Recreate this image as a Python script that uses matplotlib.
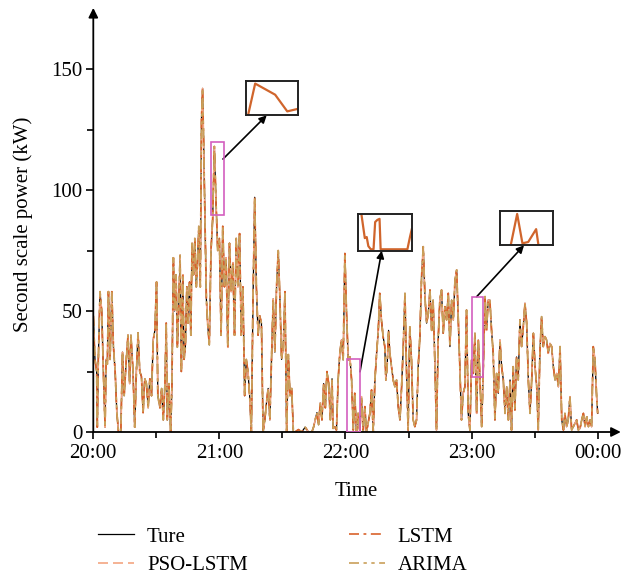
import matplotlib
matplotlib.use("Agg")
import matplotlib.pyplot as plt
from matplotlib.patches import Rectangle
from matplotlib.ticker import FixedLocator

plt.rcParams['font.family'] = ['Liberation Serif', 'DejaVu Serif']

# ---- data (minutes after 20:00, power in kW) ----
minutes = [0.0, 0.8, 1.6, 1.9, 2.4, 3.2, 4.0, 4.8, 5.6, 6.1, 6.7, 7.2, 8.0, 8.8, 9.6, 10.4, 11.2, 12.0, 13.1,
           13.9, 14.7, 15.7, 16.5, 17.3, 17.9, 18.9, 19.7, 20.5, 21.3, 22.1, 22.9, 23.7, 24.5, 25.3, 26.1,
           26.9, 27.7, 28.5, 29.3, 30.1, 30.7, 31.7, 32.5, 33.3, 34.1, 34.7, 35.2, 36.0, 36.8, 37.4, 38.1,
           38.7, 39.4, 40.0, 40.6, 41.3, 41.9, 42.6, 43.2, 43.8, 44.5, 45.1, 45.8, 46.4, 47.0, 47.7, 48.3,
           49.0, 49.6, 50.2, 50.9, 51.5, 52.0, 52.5, 53.1, 53.8, 54.4, 55.2, 56.0, 56.8, 57.6, 58.4, 59.2,
           60.0, 60.8, 61.6, 62.4, 63.2, 64.0, 64.8, 65.6, 66.4, 67.2, 68.0, 68.8, 69.6, 70.4, 71.2, 72.0,
           72.8, 73.6, 74.4, 75.2, 76.0, 76.8, 77.6, 78.4, 79.2, 80.0, 80.8, 81.6, 82.4, 83.2, 84.0, 84.8,
           85.6, 86.4, 87.2, 88.0, 88.8, 89.6, 90.4, 91.2, 92.0, 92.8, 93.6, 94.4, 95.2, 96.0, 97.6, 99.2,
           100.8, 102.4, 104.0, 104.8, 106.4, 107.2, 108.0, 108.8, 109.6, 110.4, 111.2, 112.0, 112.8, 113.6,
           114.1, 114.9, 115.7, 116.5, 117.3, 118.1, 118.9, 119.7, 120.5, 121.3, 122.1, 122.9, 123.7, 124.4,
           125.2, 126.0, 126.8, 127.6, 128.4, 129.2, 130.0, 131.6, 132.4, 133.2, 134.0, 134.8, 135.6, 136.3,
           137.1, 137.9, 138.7, 139.2, 139.8, 140.5, 141.1, 141.9, 142.7, 143.5, 144.3, 145.1, 145.9, 146.7,
           147.5, 148.3, 149.0, 149.8, 150.6, 151.4, 152.2, 153.0, 153.8, 154.6, 155.4, 156.2, 157.0, 157.8,
           158.6, 159.4, 160.2, 161.0, 161.7, 162.5, 163.3, 164.1, 164.9, 165.7, 166.5, 167.3, 168.1, 168.9,
           169.7, 170.5, 171.3, 172.1, 172.9, 173.7, 174.4, 175.2, 176.0, 176.8, 177.6, 178.4, 179.2, 180.0,
           180.8, 181.6, 182.4, 183.2, 184.0, 184.8, 185.6, 186.4, 187.1, 187.9, 188.7, 189.5, 190.3, 191.1,
           191.9, 192.7, 193.5, 194.3, 195.1, 195.9, 196.7, 197.5, 198.3, 199.0, 199.8, 200.6, 201.4, 202.2,
           203.0, 203.8, 204.6, 205.4, 206.2, 207.0, 207.8, 208.6, 209.4, 210.2, 211.0, 211.7, 212.5, 213.3,
           214.1, 214.9, 215.7, 216.5, 217.3, 218.1, 218.9, 219.7, 220.5, 221.3, 222.1, 222.9, 223.7, 224.4,
           225.2, 226.0, 226.8, 227.6, 228.4, 229.2, 230.0, 230.8, 231.6, 232.4, 233.2, 234.0, 234.8, 235.6,
           236.4, 237.1, 237.9, 238.7, 239.5, 240.0]
ture = [48, 30, 25, 2, 30, 58, 50, 25, 2, 30, 28, 58, 30, 58, 35, 25, 8, 0, 0,
        33, 15, 30, 40, 20, 40, 25, 2, 25, 41, 25, 23, 8, 22, 20, 10,
        22, 15, 38, 42, 62, 15, 10, 18, 5, 20, 45, 5, 20, 0, 18, 72,
        50, 65, 35, 50, 73, 25, 65, 30, 35, 60, 45, 62, 40, 78, 65, 80,
        60, 70, 85, 60, 130, 142, 120, 90, 55, 45, 36, 75, 88, 118, 95, 75,
        80, 40, 85, 60, 72, 35, 78, 58, 70, 40, 80, 60, 82, 40, 60, 15,
        30, 25, 15, 0, 55, 97, 60, 40, 48, 45, 0, 5, 12, 18, 5, 30,
        55, 33, 60, 75, 55, 30, 35, 58, 0, 32, 15, 18, 0, 0, 1, 0,
        2, 0, 0, 2, 8, 3, 12, 5, 20, 10, 25, 20, 5, 22,
        1.5, 2.2, 0.8, 21.5, 32.5, 38, 29.8, 73.8, 49, 29.8, 31, 21.5, 0.8, 16,
        0, 7.7, 0, 14.6, 0, 10.5, 0, 7.7, 17.4, 0, 21.5, 32.5, 42, 57.3,
        46.3, 39.4, 35.3, 21.5, 27, 42, 32.5, 27, 21.5, 18.7, 21.5, 10.5, 5, 18.7,
        35.3, 57.3, 27, 0.8, 43.5, 29.8, 5, 2.2, 5, 27, 39.4, 64.2, 76.6, 56,
        45, 49, 58.7, 42, 54.5, 29.8, 0.8, 38, 54.5, 58.7, 40.8, 51.8, 46.3, 57.3,
        35.3, 54.5, 46.3, 62.8, 67, 46.3, 27, 5, 16, 18.7, 50.4, 7.7, 0.8, 29.8,
        24.2, 40.8, 7.7, 38, 21.5, 2.2, 27, 56, 42, 54.5, 54.5, 42, 32.5, 5,
        24.2, 16, 38, 27, 21.5, 7.7, 18.7, 5, 21.5, 0.8, 27, 9.1, 31, 21.5,
        46.3, 35.3, 43.5, 53.2, 45, 21.5, 7.7, 21.5, 40.8, 27, 18.7, 0.8, 32.5, 47.7,
        35.3, 39.4, 38, 32.5, 36.6, 35.3, 27, 21.5, 24.2, 18.7, 35.3, 5, 0.8, 7.7,
        2.2, 5, 14.6, 0.8, 2.2, 3.6, 5, 0.8, 1.5, 5, 7.7, 2.2, 6.3, 2.2,
        5, 2.2, 35.3, 29.8, 14.6, 7.7]
# the three forecasts overlap the true curve at this scale
pso_lstm = list(ture)
lstm = list(ture)
arima = list(ture)

x_ticks = [0, 60, 120, 180, 240]
x_labels = ['20:00', '21:00', '22:00', '23:00', '00:00']
y_ticks = [0, 50, 100, 150]

# zoom windows (minutes, kW)
zoom_windows = [(56.0, 62.4, 89.7, 120.0), (120.9, 126.9, 0.0, 30.2), (180.3, 185.3, 22.9, 55.9)]
# inset curves (normalised to inset box)
inset1_x = [0.05, 0.18, 0.56, 0.79, 1.0]
inset1_y = [0.02, 0.95, 0.61, 0.10, 0.18]
inset2_x = [0.07, 0.13, 0.165, 0.195, 0.24, 0.29, 0.32, 0.36, 0.40, 0.42, 0.91, 0.96, 0.99]
inset2_y = [1.0, 0.34, 0.37, 0.11, 0.02, 0.02, 0.80, 0.86, 0.89, 0.02, 0.02, 0.39, 0.59]
inset3_x = [0.20, 0.32, 0.42, 0.53, 0.68, 0.72]
inset3_y = [0.0, 0.93, 0.04, 0.08, 0.47, 0.03]

W, H = 621, 576
FS = 15
fig = plt.figure(figsize=(W / 100, H / 100), dpi=100)
ax = fig.add_axes([93.3 / W, 144 / H, 525.4 / W, 416.2 / H])

c_true = 'black'
c_pso = '#F4A582'
c_lstm = '#D9622B'
c_arima = '#C9A05A'
ax.plot(minutes, ture, color=c_true, lw=0.9, label='Ture')
ax.plot(minutes, pso_lstm, color=c_pso, lw=1.2, dashes=(6, 3), label='PSO-LSTM')
ax.plot(minutes, lstm, color=c_lstm, lw=1.2, dashes=(6, 2.7, 1.7, 2.7), label='LSTM')
ax.plot(minutes, arima, color=c_arima, lw=1.2, dashes=(6, 2.7, 2, 2.7, 2, 2.7), label='ARIMA')

ax.set_xlim(0, 250)
ax.set_ylim(0, 172)
for s in ['top', 'right', 'left', 'bottom']:
    ax.spines[s].set_visible(False)
ax.annotate('', xy=(0, 1.019), xytext=(0, 0), xycoords='axes fraction',
            arrowprops=dict(arrowstyle='-|>', color='black', lw=1.3, mutation_scale=14, shrinkA=0, shrinkB=0))
ax.annotate('', xy=(1.004, 0), xytext=(0, 0), xycoords='axes fraction',
            arrowprops=dict(arrowstyle='-|>', color='black', lw=1.3, mutation_scale=14, shrinkA=0, shrinkB=0))

ax.xaxis.set_major_locator(FixedLocator(x_ticks))
ax.set_xticklabels(x_labels)
ax.xaxis.set_minor_locator(FixedLocator([30, 90, 150, 210]))
ax.yaxis.set_major_locator(FixedLocator(y_ticks))
ax.yaxis.set_minor_locator(FixedLocator([25, 75, 125]))
ax.tick_params(which='both', direction='out', width=1.2, labelsize=FS, colors='black')
ax.tick_params(which='major', length=5)
ax.tick_params(which='minor', length=4)
ax.tick_params(axis='x', pad=4)
ax.tick_params(axis='y', pad=3)
ax.set_xlabel('Time', fontsize=FS, labelpad=13)
ax.set_ylabel('Second scale power (kW)', fontsize=FS, labelpad=13)

# magenta zoom rectangles
for (t0, t1, v0, v1) in zoom_windows:
    ax.add_patch(Rectangle((t0, v0), t1 - t0, v1 - v0, fill=False, ec='#D35FBF', lw=1.2, zorder=5))

inset_pos = [(245.7, 81.3, 298.3, 115.3), (357.7, 214.3, 412.3, 250.7), (500.3, 211.0, 553.0, 245.3)]
inset_data = [(inset1_x, inset1_y), (inset2_x, inset2_y), (inset3_x, inset3_y)]
insets = []
for (x0, y0, x1, y1), (ix, iy) in zip(inset_pos, inset_data):
    ia = fig.add_axes([x0 / W, (H - y1) / H, (x1 - x0) / W, (y1 - y0) / H])
    ia.plot(ix, iy, color='#D0652C', lw=1.6)
    ia.set_xlim(0, 1)
    ia.set_ylim(-0.02, 1.02)
    ia.set_xticks([])
    ia.set_yticks([])
    for s in ia.spines.values():
        s.set_linewidth(1.4)
        s.set_color('#222222')
    insets.append(ia)

arrow_from = [(61.7, 112.8), (126.9, 24.9), (182.4, 55.9)]
arrow_to = [0.40, 0.44, 0.45]
for (t, v), fx, ia in zip(arrow_from, arrow_to, insets):
    ax.annotate('', xy=(fx, 0), xycoords=ia.transAxes, xytext=(t, v), textcoords='data',
                arrowprops=dict(arrowstyle='-|>', color='black', lw=1.2, mutation_scale=11,
                                shrinkA=0, shrinkB=0), annotation_clip=False)

fig.legend(loc='upper left', bbox_to_anchor=(98 / W, 1 - 527 / H), ncol=2, frameon=False,
           fontsize=FS, handlelength=1.75, handletextpad=0.6, columnspacing=4.85,
           labelspacing=0.42, borderpad=0, borderaxespad=0)

fig.savefig('out.png', dpi=100)
